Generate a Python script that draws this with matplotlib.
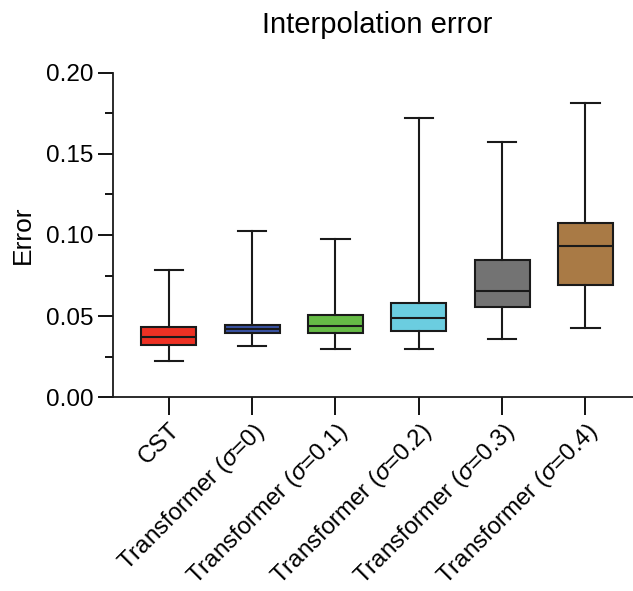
import matplotlib
matplotlib.use("Agg")
import matplotlib.pyplot as plt
from matplotlib.ticker import MultipleLocator

plt.rcParams['font.family'] = ['Liberation Sans', 'DejaVu Sans']
plt.rcParams['mathtext.fontset'] = 'custom'
plt.rcParams['mathtext.it'] = 'Liberation Sans:italic'
plt.rcParams['mathtext.rm'] = 'Liberation Sans'

# box summary values (min/max whiskers)
labels = ['CST', r'Transformer ($\sigma$=0)', r'Transformer ($\sigma$=0.1)',
          r'Transformer ($\sigma$=0.2)', r'Transformer ($\sigma$=0.3)',
          r'Transformer ($\sigma$=0.4)']
whislo = [0.0224, 0.0316, 0.0296, 0.0299, 0.0357, 0.0429]
q1 = [0.0322, 0.0398, 0.0396, 0.0410, 0.0555, 0.0692]
med = [0.0370, 0.0423, 0.0441, 0.0487, 0.0653, 0.0932]
q3 = [0.0431, 0.0444, 0.0505, 0.0579, 0.0848, 0.1074]
whishi = [0.0786, 0.1027, 0.0975, 0.1723, 0.1575, 0.1811]
colors = ['#EE3124', '#3A53A4', '#66BB46', '#6BCDE0', '#737373', '#A97A45']

stats = []
for i in range(len(labels)):
    stats.append({'label': labels[i], 'whislo': whislo[i], 'q1': q1[i], 'med': med[i],
                  'q3': q3[i], 'whishi': whishi[i], 'fliers': []})

fig = plt.figure(figsize=(6.33, 5.91), dpi=100)
ax = fig.add_axes([0.1785, 0.3278, 1.0 - 0.1785, 0.877 - 0.3278])

lw = 1.5
bp = ax.bxp(stats, positions=range(len(labels)), widths=0.66, patch_artist=True,
            showfliers=False,
            boxprops=dict(linewidth=lw, edgecolor='#1a1a1a'),
            medianprops=dict(color='#1a1a1a', linewidth=lw),
            whiskerprops=dict(color='#1a1a1a', linewidth=lw),
            capprops=dict(color='#1a1a1a', linewidth=lw),
            capwidths=0.34)
for patch, c in zip(bp['boxes'], colors):
    patch.set_facecolor(c)

ax.set_xlim(-0.67, 5.57)
ax.set_ylim(0, 0.20)
ax.yaxis.set_major_locator(MultipleLocator(0.05))
ax.yaxis.set_minor_locator(MultipleLocator(0.025))
ax.yaxis.set_major_formatter(matplotlib.ticker.FormatStrFormatter('%.2f'))

for s in ['top', 'right']:
    ax.spines[s].set_visible(False)
for s in ['left', 'bottom']:
    ax.spines[s].set_linewidth(1.3)
    ax.spines[s].set_color('#1a1a1a')

ax.tick_params(axis='y', which='major', length=11, width=1.3, labelsize=17.5, pad=3)
ax.tick_params(axis='y', which='minor', length=6, width=1.3)
ax.tick_params(axis='x', which='major', length=13, width=1.3, labelsize=17.3, pad=3)

ax.set_xticks(range(len(labels)))
ax.set_xticklabels(labels, rotation=45, ha='right', rotation_mode='anchor')

ax.set_ylabel('Error', fontsize=19, labelpad=8)
fig.text(0.596, 0.958, 'Interpolation error', fontsize=21, ha='center', va='center')

fig.savefig('out.png', dpi=100)
